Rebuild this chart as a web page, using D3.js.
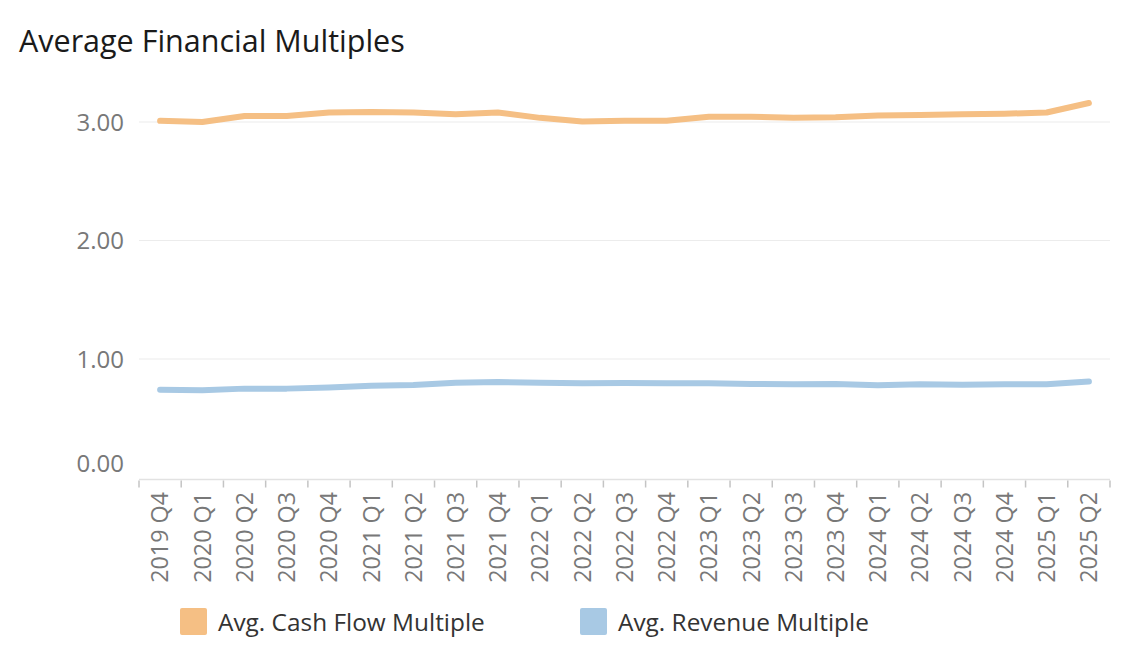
<!DOCTYPE html>
<html>
<head>
<meta charset="utf-8">
<script src="https://cdn.jsdelivr.net/npm/d3@7"></script>
<style>
  body { margin: 0; background: #fff; }
  svg { display: block; font-family: "Open Sans", "Noto Sans", sans-serif; }
</style>
</head>
<body>
<div id="chart"></div>
<script>
// quarters on the x axis
var quarters = ["2019 Q4", "2020 Q1", "2020 Q2", "2020 Q3", "2020 Q4", "2021 Q1", "2021 Q2", "2021 Q3",
  "2021 Q4", "2022 Q1", "2022 Q2", "2022 Q3", "2022 Q4", "2023 Q1", "2023 Q2", "2023 Q3",
  "2023 Q4", "2024 Q1", "2024 Q2", "2024 Q3", "2024 Q4", "2025 Q1", "2025 Q2"]

var cashFlow = [3.01, 3.00, 3.05, 3.05, 3.08, 3.085, 3.08, 3.065, 3.08, 3.035, 3.005, 3.01,
  3.01, 3.045, 3.045, 3.035, 3.04, 3.055, 3.06, 3.065, 3.07, 3.08, 3.16]

var revenue = [0.74, 0.736, 0.75, 0.75, 0.76, 0.775, 0.78, 0.80, 0.805, 0.80, 0.795, 0.797,
  0.795, 0.795, 0.79, 0.787, 0.79, 0.778, 0.787, 0.783, 0.787, 0.787, 0.81]

var seriesNames = ["Avg. Cash Flow Multiple", "Avg. Revenue Multiple"]
var seriesColors = ["#f5bf84", "#a8c9e4"]
var yTicks = [0, 1, 2, 3]

var width = 1134, height = 654

var svg = d3.select("#chart").append("svg")
    .attr("width", width)
    .attr("height", height)

svg.append("text")
    .text("Average Financial Multiples")
    .attr("x", 19).attr("y", 52)
    .style("font-size", "30.5px")
    .attr("fill", "#1a1a1a")

var plotLeft = 139, plotRight = 1110

// band for tick boundaries, point for line vertices
var xBand = d3.scaleBand().domain(quarters).range([plotLeft, plotRight])
var x = d3.scalePoint().domain(quarters).range([plotLeft, plotRight]).padding(0.5)
var y = d3.scaleLinear().domain([0, 3]).range([477.5, 122])

// gridlines
svg.selectAll(".grid")
  .data(yTicks.filter(function(d){ return d > 0 }))
  .enter().append("line")
    .attr("class", "grid")
    .attr("x1", plotLeft).attr("x2", plotRight)
    .attr("y1", function(d){ return y(d) }).attr("y2", function(d){ return y(d) })
    .attr("stroke", "#ececec").attr("stroke-width", 1.2)

// y axis labels
var yAxis = svg.append("g")
    .attr("transform", "translate(124,0)")
    .call(d3.axisLeft(y).tickValues(yTicks).tickFormat(d3.format(".2f")).tickSize(0).tickPadding(0))
yAxis.select(".domain").remove()
yAxis.selectAll("text")
    .style("font-size", "24px")
    .style("font-family", "\"Open Sans\", sans-serif")
    .attr("fill", "#787878")
    .attr("dy", function(d){ return d == 0 ? "-0.25em" : "0.34em" })

// x axis
var xAxisY = 479.5
svg.append("line")
    .attr("x1", plotLeft).attr("x2", plotRight)
    .attr("y1", xAxisY).attr("y2", xAxisY)
    .attr("stroke", "#e2e2e2").attr("stroke-width", 1.5)

var tickPos = quarters.map(function(q){ return xBand(q) }).concat([plotRight])
svg.selectAll(".xtick")
  .data(tickPos)
  .enter().append("line")
    .attr("class", "xtick")
    .attr("x1", function(d){ return d }).attr("x2", function(d){ return d })
    .attr("y1", xAxisY + 1).attr("y2", xAxisY + 8)
    .attr("stroke", "#c4c4c4").attr("stroke-width", 1.5)

svg.selectAll(".xlabel")
  .data(quarters)
  .enter().append("text")
    .attr("class", "xlabel")
    .text(function(d){ return d })
    .attr("transform", function(d){ return "translate(" + x(d) + "," + 492 + ") rotate(-90)" })
    .attr("text-anchor", "end")
    .attr("dy", "0.36em")
    .style("font-size", "23.3px")
    .attr("fill", "#787878")

// lines
var line = d3.line()
    .x(function(d, i){ return x(quarters[i]) })
    .y(function(d){ return y(d) })

var series = [cashFlow, revenue]
svg.selectAll(".series")
  .data(series)
  .enter().append("path")
    .attr("class", "series")
    .attr("d", line)
    .attr("fill", "none")
    .attr("stroke", function(d, i){ return seriesColors[i] })
    .attr("stroke-width", 6)
    .attr("stroke-linejoin", "round")
    .attr("stroke-linecap", "round")

// legend
var legendX = [180, 580]
var legend = svg.selectAll(".legend")
  .data(seriesNames)
  .enter().append("g")
    .attr("class", "legend")
    .attr("transform", function(d, i){ return "translate(" + legendX[i] + ",608)" })
legend.append("rect")
    .attr("width", 27).attr("height", 27).attr("rx", 2)
    .attr("fill", function(d, i){ return seriesColors[i] })
legend.append("text")
    .text(function(d){ return d })
    .attr("x", 38).attr("y", 14).attr("dy", "0.36em")
    .style("font-size", "24.4px")
    .attr("fill", "#333")
</script>
</body>
</html>
